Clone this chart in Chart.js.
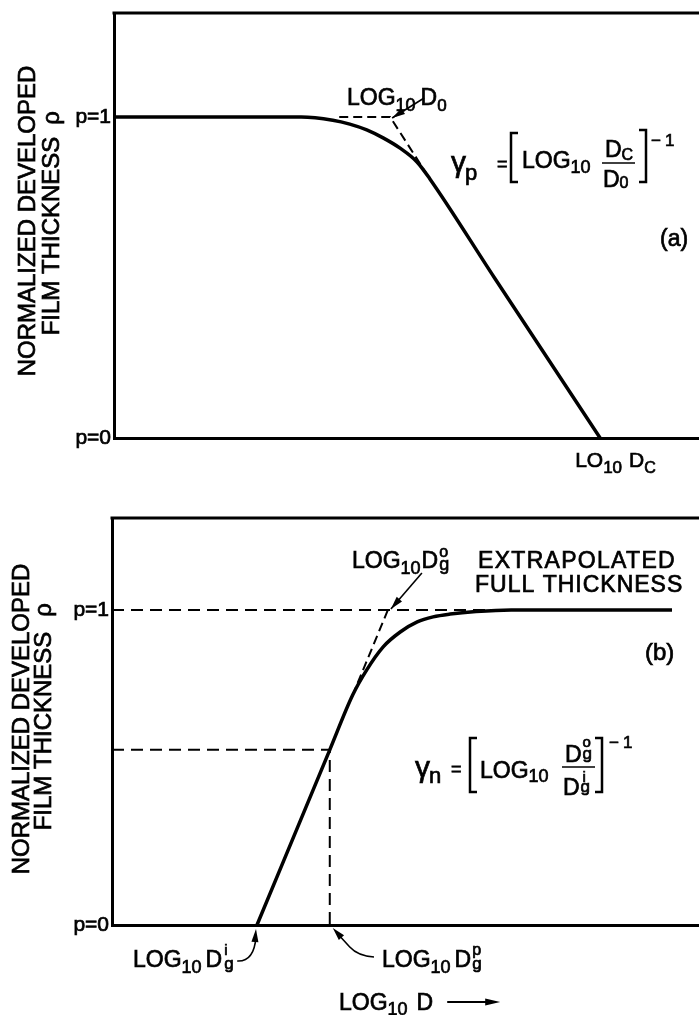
<!DOCTYPE html>
<html>
<head>
<meta charset="utf-8">
<script src="https://cdn.jsdelivr.net/npm/chart.js@4.4.0/dist/chart.umd.min.js"></script>
<style>
  html, body { margin: 0; padding: 0; background: #fff; }
  canvas { display: block; }
</style>
</head>
<body>
<canvas id="chartA" width="699" height="500"></canvas>
<canvas id="chartB" width="699" height="515"></canvas>
<script>
const FONT = '"Liberation Sans", Arial, Helvetica, sans-serif';
const INK = 0.7; // extra stroke so the lettering reads as heavy as pen lettering

// log10 dose runs 0..10 (arbitrary units), p = normalized developed thickness
const pTicks = [0, 1];

// (a) positive resist
const doseA  = [0, 3.2, 3.74, 4.03, 4.32, 4.60, 4.89, 5.18, 5.40, 6.50, 8.31];
const thickA = [1, 1, 0.99, 0.978, 0.96, 0.935, 0.903, 0.86, 0.807, 0.50, 0];
const logD0 = 4.72;
const logDc = 8.31;
const tangentAX = [3.85, logD0, 5.40];
const tangentAP = [1, 1, 0.807];

// (b) negative resist
const doseB  = [2.47, 3.71, 4.10, 4.34, 4.62, 4.91, 5.20, 5.47, 5.76, 6.20, 6.80, 9.54];
const thickB = [0, 0.556, 0.73, 0.81, 0.883, 0.93, 0.962, 0.978, 0.987, 0.995, 1, 1];
const logDgi = 2.47;
const logDgp = 3.71;
const logDgo = 4.70;
const pAtDgp = 0.556;
const fullX = [0, 6.8];
const fullP = [1, 1];
const tangentBX = [logDgo, 4.10];
const tangentBP = [1, 0.73];

function pts(xs, ps) {
  return xs.map((x, i) => ({ x: x, y: ps[i] }));
}

function line(data, width, dash, smooth) {
  return {
    data: data,
    showLine: true,
    borderColor: '#000',
    borderWidth: width,
    borderDash: dash || [],
    borderCapStyle: 'butt',
    pointRadius: 0,
    tension: 0,
    cubicInterpolationMode: smooth ? 'monotone' : 'default'
  };
}

function scales(yMax, axisWidth) {
  return {
    x: {
      type: 'linear', min: 0, max: 10,
      grid: { display: false, drawTicks: false },
      ticks: { display: false },
      border: { display: true, color: '#000', width: 3 },
      afterFit: s => { s.height = 0; s.paddingLeft = 0; s.paddingRight = 0; }
    },
    y: {
      type: 'linear', min: 0, max: yMax,
      grid: { display: false, drawTicks: false },
      border: { display: true, color: '#000', width: 3 },
      afterBuildTicks: s => { s.ticks = pTicks.map(v => ({ value: v })); },
      ticks: {
        color: '#000', padding: 3,
        textStrokeColor: '#000', textStrokeWidth: INK,
        font: { family: FONT, size: 21 },
        callback: v => 'p=' + v
      },
      afterFit: s => { s.width = axisWidth; s.paddingTop = 0; s.paddingBottom = 0; }
    }
  };
}

function ink(ctx, t, x, y) {
  ctx.fillText(t, x, y);
  ctx.lineWidth = INK;
  ctx.strokeText(t, x, y);
}

// text runs with sub/superscripts: [text, size, dy, gapBefore, keepX]
function rich(ctx, x, y, parts) {
  let cx = x;
  for (const [t, s, dy = 0, gap = 0, keep = false] of parts) {
    ctx.font = s + 'px ' + FONT;
    cx += gap;
    ink(ctx, t, cx, y + dy);
    if (!keep) cx += ctx.measureText(t).width;
  }
  return cx;
}

function spaced(ctx, t, x, y, size, sp) {
  ctx.font = size + 'px ' + FONT;
  ctx.letterSpacing = sp + 'px';
  ink(ctx, t, x, y);
  ctx.letterSpacing = '0px';
}

function bracket(ctx, x, top, bottom, dir) {
  ctx.lineWidth = 2.5;
  ctx.beginPath();
  ctx.moveTo(x + dir * 7, top);
  ctx.lineTo(x, top);
  ctx.lineTo(x, bottom);
  ctx.lineTo(x + dir * 7, bottom);
  ctx.stroke();
}

function rule(ctx, x1, x2, y) {
  ctx.lineWidth = 1.5;
  ctx.beginPath();
  ctx.moveTo(x1, y);
  ctx.lineTo(x2, y);
  ctx.stroke();
}

function head(ctx, tx, ty, fx, fy, len, half) {
  const a = Math.atan2(ty - fy, tx - fx);
  const c = Math.cos(a), s = Math.sin(a);
  ctx.beginPath();
  ctx.moveTo(tx, ty);
  ctx.lineTo(tx - len * c + half * s, ty - len * s - half * c);
  ctx.lineTo(tx - len * c - half * s, ty - len * s + half * c);
  ctx.closePath();
  ctx.fill();
}

function arrow(ctx, fx, fy, tx, ty) {
  ctx.lineWidth = 1.6;
  ctx.beginPath();
  ctx.moveTo(fx, fy);
  ctx.lineTo(tx, ty);
  ctx.stroke();
  head(ctx, tx, ty, fx, fy, 13, 3.5);
}

function yTitle(ctx, x1, c1, x2, c2, rhoY) {
  ctx.font = '24px ' + FONT;
  ctx.textAlign = 'center';
  [[x1, c1, 'NORMALIZED DEVELOPED'], [x2, c2, 'FILM THICKNESS'], [x2, rhoY, 'ρ']].forEach(([x, y, t]) => {
    ctx.save();
    ctx.translate(x, y);
    ctx.rotate(-Math.PI / 2);
    ink(ctx, t, 0, 0);
    ctx.restore();
  });
  ctx.textAlign = 'left';
}

function topLine(chart) {
  const { ctx, chartArea } = chart;
  ctx.save();
  ctx.strokeStyle = '#000';
  ctx.lineWidth = 3;
  ctx.beginPath();
  ctx.moveTo(chartArea.left - 1.5, chartArea.top);
  ctx.lineTo(chartArea.right, chartArea.top);
  ctx.stroke();
  ctx.restore();
}

const notesA = {
  id: 'notesA',
  afterDraw(chart) {
    const ctx = chart.ctx;
    const X = v => chart.scales.x.getPixelForValue(v);
    const Y = v => chart.scales.y.getPixelForValue(v);
    topLine(chart);
    ctx.save();
    ctx.fillStyle = '#000';
    ctx.strokeStyle = '#000';
    ctx.textBaseline = 'alphabetic';

    yTitle(ctx, 35, 221, 59, 236, 118);

    // LOG10 D0 with arrow to the extrapolated corner
    rich(ctx, 347, 105, [['LOG', 23], ['10', 18, 6], ['D', 23, 0, 5], ['0', 17, 6]]);
    const tx = X(logD0) + 2, ty = Y(1) + 1;
    arrow(ctx, tx + 32, ty - 20, tx, ty);

    // gamma_p = [LOG10 Dc/D0]^-1
    rich(ctx, 451, 172, [['γ', 30], ['p', 22, 8, -1]]);
    rich(ctx, 497, 170, [['=', 18]]);
    bracket(ctx, 511, 133, 182, 1);
    rich(ctx, 522, 168, [['LOG', 23], ['10', 18, 5]]);
    rich(ctx, 605, 157, [['D', 23], ['C', 16, 3]]);
    rule(ctx, 602, 635, 163);
    rich(ctx, 603, 187, [['D', 23], ['0', 16, 1]]);
    bracket(ctx, 646, 130, 182, -1);
    rich(ctx, 651, 146, [['−', 17], ['1', 17, 0, 4]]);

    rich(ctx, 660, 246, [['(a)', 23]]);

    // Dc where the line reaches p = 0
    rich(ctx, X(logDc) - 25, Y(0) + 29, [['LO', 21], ['10', 17, 6], ['D', 21, 0, 7], ['C', 16, 6]]);
    ctx.restore();
  }
};

const notesB = {
  id: 'notesB',
  afterDraw(chart) {
    const ctx = chart.ctx;
    const X = v => chart.scales.x.getPixelForValue(v);
    const Y = v => chart.scales.y.getPixelForValue(v);
    topLine(chart);
    ctx.save();
    ctx.fillStyle = '#000';
    ctx.strokeStyle = '#000';
    ctx.textBaseline = 'alphabetic';

    yTitle(ctx, 29, 219, 51, 231, 110);

    // LOG10 Dg^o  EXTRAPOLATED FULL THICKNESS
    const ex = rich(ctx, 352, 68, [['LOG', 23], ['10', 18, 6], ['D', 23, 0, 1]]);
    rich(ctx, ex + 1, 57, [['o', 16, 0, 0, true], ['g', 18, 13]]);
    spaced(ctx, 'EXTRAPOLATED', 478, 68, 23, 1.3);
    spaced(ctx, 'FULL THICKNESS', 475, 92, 23, 1);
    const ox = X(logDgo) + 3, oy = Y(1) - 1;
    arrow(ctx, ox + 31, oy - 36, ox, oy);

    rich(ctx, 645, 160, [['(b)', 24]]);

    // gamma_n = [LOG10 Dg^o / Dg^i]^-1
    rich(ctx, 415, 277, [['γ', 30], ['n', 22, 6, -1]]);
    rich(ctx, 451, 275, [['=', 18]]);
    bracket(ctx, 470, 238, 292, 1);
    rich(ctx, 480, 278, [['LOG', 23], ['10', 18, 4]]);
    const nx = rich(ctx, 565, 262, [['D', 23]]);
    rich(ctx, nx + 1, 247, [['o', 15, 0, 0, true], ['g', 17, 12]]);
    rule(ctx, 562, 595, 267);
    const dx = rich(ctx, 563, 295, [['D', 23]]);
    rich(ctx, dx + 3, 282, [['i', 15, 0, 0, true], ['g', 17, 10, -2]]);
    bracket(ctx, 602, 238, 292, -1);
    rich(ctx, 609, 248, [['−', 17], ['1', 17, 0, 4]]);

    // LOG10 Dg^i, arrow up to the foot of the line
    const ix = rich(ctx, 133, 467, [['LOG', 23], ['10', 18, 6], ['D', 23, 0, 4]]);
    rich(ctx, ix + 1, 455, [['i', 15, 0, 1, true], ['g', 17, 14]]);
    const ax = X(logDgi) - 1, ay = Y(0) + 4;
    ctx.lineWidth = 1.6;
    ctx.beginPath();
    ctx.moveTo(ix + 15, 461);
    ctx.quadraticCurveTo(ax - 2, 462, ax, ay + 8);
    ctx.stroke();
    head(ctx, ax, ay, ax - 1, ay + 12, 13, 3.5);

    // LOG10 Dg^p, arrow to the dashed drop line
    const px = rich(ctx, 382, 467, [['LOG', 23], ['10', 18, 6], ['D', 23, 0, 4]]);
    rich(ctx, px + 1, 455, [['p', 16, 0, 0, true], ['g', 17, 14]]);
    const bx = X(logDgp) + 3, by = Y(0) + 3;
    ctx.lineWidth = 1.6;
    ctx.beginPath();
    ctx.moveTo(374, 457);
    ctx.quadraticCurveTo(358, 456, bx + 17, by + 19);
    ctx.lineTo(bx + 6, by + 7);
    ctx.stroke();
    head(ctx, bx, by, bx + 17, by + 19, 13, 3.5);

    // x axis caption
    const cx = rich(ctx, 339, 510, [['LOG', 23], ['10', 18, 5], ['D', 23, 0, 9]]);
    ctx.lineWidth = 2;
    ctx.beginPath();
    ctx.moveTo(cx + 14, 502);
    ctx.lineTo(cx + 56, 502);
    ctx.stroke();
    head(ctx, cx + 67, 502, cx + 14, 502, 15, 3.5);
    ctx.restore();
  }
};

new Chart(document.getElementById('chartA'), {
  type: 'scatter',
  data: {
    datasets: [
      line(pts(doseA, thickA), 3.5, null, true),
      line(pts(tangentAX, tangentAP), 2, [9, 5])
    ]
  },
  options: {
    responsive: false,
    animation: false,
    events: [],
    layout: { padding: { top: 13, bottom: 62, left: 0, right: 0 } },
    plugins: { legend: { display: false }, tooltip: { enabled: false } },
    scales: scales(1.324, 114)
  },
  plugins: [notesA]
});

new Chart(document.getElementById('chartB'), {
  type: 'scatter',
  data: {
    datasets: [
      line(pts(doseB, thickB), 3.5, null, true),
      line(pts(fullX, fullP), 2, [12, 7]),
      line(pts([0, logDgp, logDgp], [pAtDgp, pAtDgp, 0]), 2, [12, 7]),
      line(pts(tangentBX, tangentBP), 2, [9, 5])
    ]
  },
  options: {
    responsive: false,
    animation: false,
    events: [],
    layout: { padding: { top: 18, bottom: 90, left: 0, right: 0 } },
    plugins: { legend: { display: false }, tooltip: { enabled: false } },
    scales: scales(1.292, 112)
  },
  plugins: [notesB]
});
</script>
</body>
</html>
